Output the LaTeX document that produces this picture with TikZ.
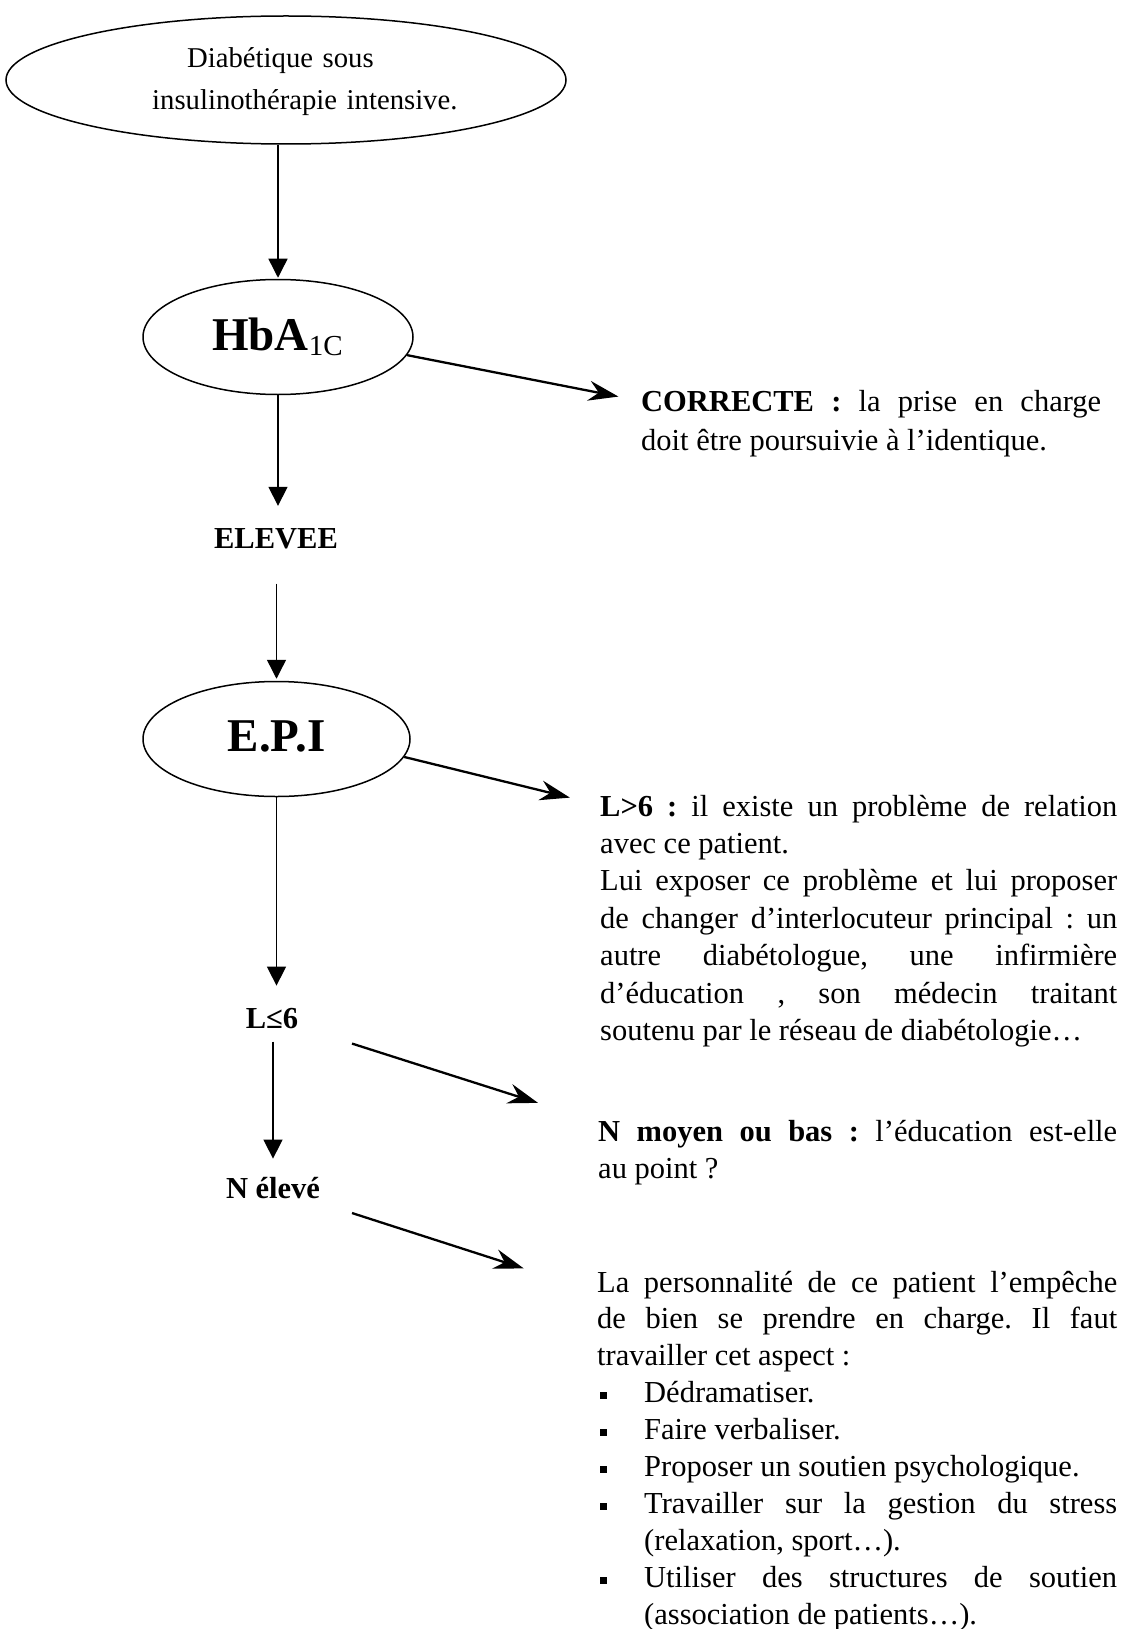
\documentclass[tikz,border=0pt]{standalone}
\usepackage{fontspec}
\setmainfont{Liberation Serif}
\usetikzlibrary{shapes.geometric,arrows.meta}
\hyphenpenalty=10000
\exhyphenpenalty=10000
\tolerance=9999
\emergencystretch=0pt
\newcommand\bodyfont{\fontsize{30.5}{37.4}\selectfont}
\newcommand\itm{\par\hangindent=47pt\hangafter=1\noindent\makebox[47pt][l]{\hspace{3pt}\rule[3.5pt]{7pt}{7pt}}\ignorespaces}
\begin{document}
\frenchspacing
\begin{tikzpicture}[x=1pt,y=-1pt,
  ell/.style={draw, ellipse, line width=1.5pt, inner sep=0pt},
  vline/.style={line width=1.4pt, -{Triangle[width=19pt,length=19pt]}},
  dline/.style={line width=2.3pt, -{Stealth[width=20pt,length=30pt,inset=10pt]}},
  lbl/.style={inner sep=0pt, anchor=base, font=\bodyfont\bfseries},
  big/.style={inner sep=0pt, anchor=base, font=\fontsize{47}{50}\selectfont\bfseries},
  para/.style={inner sep=0pt, anchor=base west, font=\bodyfont, align=justify}
]
\fill[white] (0,0) rectangle (1128,1629);
\useasboundingbox (0,0) rectangle (1128,1629);

% left column
\node[ell, minimum width=560pt, minimum height=128pt] (e1) at (286,80) {};
\node[para, align=left, font=\fontsize{28.7}{42}\selectfont, text width=330pt] (t1) at (152,68)
  {\hspace*{35pt}Diabétique sous\par insulinothérapie intensive.};
\node[ell, minimum width=270pt, minimum height=115pt] (e2) at (278,337) {};
\node[big] (hba) at (277.5,350) {HbA\raisebox{-5pt}{\fontsize{29}{29}\selectfont\mdseries 1C}};
\node[lbl] (elevee) at (276,548) {ELEVEE};
\node[ell, minimum width=267pt, minimum height=115pt] (e3) at (276.5,739) {};
\node[big] (epi) at (276.5,751) {E.P.I};
\node[lbl] (l6) at (272,1028) {L≤6};
\node[lbl] (nel) at (273,1198) {N élevé};

% right column
\node[para, text width=460pt, font=\fontsize{30.5}{39}\selectfont] (cor) at (641,411)
  {\textbf{CORRECTE :} la prise en charge\linebreak doit être poursuivie à l’identique.\par};
\node[para, text width=517pt] (gt6) at (600,816)
  {\textbf{L>6 :} il existe un problème de relation\linebreak avec ce patient.\par
   Lui exposer ce problème et lui proposer\linebreak de changer d’interlocuteur principal : un\linebreak autre diabétologue, une infirmière\linebreak d’éducation , son médecin traitant\linebreak soutenu par le réseau de diabétologie…\par};
\node[para, text width=519pt] (nmb) at (598,1141)
  {\textbf{N moyen ou bas :} l’éducation est-elle\linebreak au point ?\par};
\node[para, text width=520pt, font=\fontsize{30.5}{36.9}\selectfont] (pers) at (597,1292)
  {La personnalité de ce patient l’empêche\linebreak de bien se prendre en charge. Il faut\linebreak travailler cet aspect :
   \itm Dédramatiser.
   \itm Faire verbaliser.
   \itm Proposer un soutien psychologique.
   \itm Travailler sur la gestion du stress\linebreak (relaxation, sport…).
   \itm Utiliser des structures de soutien\linebreak (association de patients…).\par};

% vertical connectors
\draw[vline, shorten >=1pt] (e1.south -| e2.north) -- (e2.north);
\draw[vline, shorten >=22pt] (e2.south) -- (e2.south |- elevee.north);
\draw[vline, shorten <=35pt, shorten >=2pt] (e3.north |- elevee.south) -- (e3.north);
\draw[vline, shorten >=22pt] (e3.south) -- (e3.south |- l6.north);
\draw[vline, shorten <=13pt, shorten >=18pt] (nel.north |- l6.south) -- (nel.north);

% diagonal connectors
\draw[dline, shorten >=23pt] (e2.-8) -- ([yshift=10pt]cor.base west);
\draw[dline, shorten >=31pt] (e3.-8) -- ([yshift=11pt]gt6.base west);
\draw[dline, shorten <=84pt, shorten >=63pt] (l6.center) -- ([yshift=19pt]nmb.base west);
\draw[dline, shorten <=83pt, shorten >=77pt] (nel.center) -- (pers.base west);
\end{tikzpicture}
\end{document}
